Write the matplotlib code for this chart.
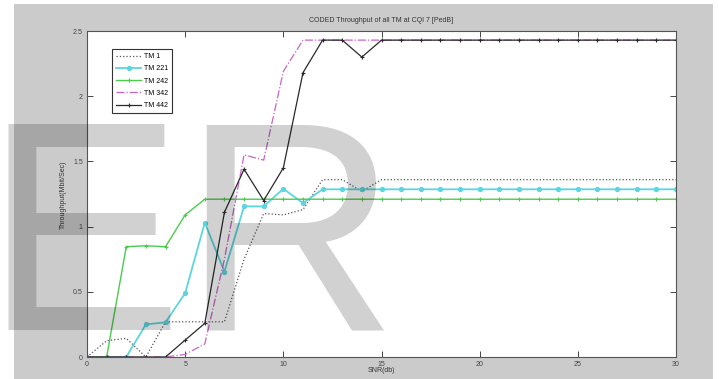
import matplotlib.pyplot as plt
from matplotlib.patches import Rectangle

# SNR axis (dB)
snr = [0, 1, 2, 3, 4, 5, 6, 7, 8, 9, 10, 11, 12, 13, 14, 15,
       16, 17, 18, 19, 20, 21, 22, 23, 24, 25, 26, 27, 28, 29, 30]

# throughput per transmission mode (Mbit/s)
tm1 = [0, 0.125, 0.143, 0, 0.27, 0.27, 0.27, 0.27, 0.75, 1.1, 1.09, 1.13, 1.36, 1.36, 1.27, 1.36,
       1.36, 1.36, 1.36, 1.36, 1.36, 1.36, 1.36, 1.36, 1.36, 1.36, 1.36, 1.36, 1.36, 1.36, 1.36]
tm221 = [0, 0, 0, 0.25, 0.266, 0.49, 1.03, 0.655, 1.155, 1.155, 1.29, 1.18, 1.286, 1.286, 1.286, 1.286,
         1.286, 1.286, 1.286, 1.286, 1.286, 1.286, 1.286, 1.286, 1.286, 1.286, 1.286, 1.286, 1.286, 1.286, 1.286]
tm242 = [0, 0, 0.846, 0.853, 0.846, 1.09, 1.21, 1.21, 1.21, 1.21, 1.21, 1.21, 1.21, 1.21, 1.21, 1.21,
         1.21, 1.21, 1.21, 1.21, 1.21, 1.21, 1.21, 1.21, 1.21, 1.21, 1.21, 1.21, 1.21, 1.21, 1.21]
tm342 = [0, 0, 0, 0, 0, 0.02, 0.1, 0.75, 1.55, 1.51, 2.19, 2.43, 2.43, 2.43, 2.43, 2.43,
         2.43, 2.43, 2.43, 2.43, 2.43, 2.43, 2.43, 2.43, 2.43, 2.43, 2.43, 2.43, 2.43, 2.43, 2.43]
tm442 = [0, 0, 0, 0, 0, 0.13, 0.258, 1.11, 1.44, 1.2, 1.45, 2.18, 2.43, 2.43, 2.3, 2.43,
         2.43, 2.43, 2.43, 2.43, 2.43, 2.43, 2.43, 2.43, 2.43, 2.43, 2.43, 2.43, 2.43, 2.43, 2.43]

x_ticks = [0, 5, 10, 15, 20, 25, 30]
y_ticks = [0, 0.5, 1, 1.5, 2, 2.5]
y_labels = ['0', '0.5', '1', '1.5', '2', '2.5']

plt.rcParams['font.family'] = ['Liberation Sans', 'DejaVu Sans']

fig = plt.figure(figsize=(7.19, 3.79), dpi=100)
fig.patch.set_facecolor('white')
# matlab-like grey figure area
fig.patches.append(Rectangle((14 / 719, 0), 699 / 719, 375 / 379, transform=fig.transFigure,
                             facecolor='#cbcbcb', edgecolor='none', zorder=-10))

ax = fig.add_axes([87 / 719, 22 / 379, 589 / 719, 326 / 379])
ax.set_facecolor('white')

ax.plot(snr, tm1, ':', color='#55555f', lw=0.9, label='TM 1')
ax.plot(snr, tm221, '-o', color='#5cd6de', lw=1.3, ms=2.8, mfc='#5cd6de', mec='#5cd6de', label='TM 221')
ax.plot(snr, tm242, '-+', color='#4ccc4c', lw=1.0, ms=3.5, mew=0.8, label='TM 242')
ax.plot(snr, tm342, '-.', color='#c466c4', lw=0.9, label='TM 342')
ax.plot(snr, tm442, '-+', color='#2a2a2a', lw=0.9, ms=3.5, mew=0.8, label='TM 442')

ax.set_xlim(0, 30)
ax.set_ylim(0, 2.5)
ax.set_xticks(x_ticks)
ax.set_yticks(y_ticks)
ax.set_yticklabels(y_labels)
ax.tick_params(direction='in', length=4, width=0.7, colors='#444444', labelsize=5,
               top=True, right=True, pad=3)
for s in ax.spines.values():
    s.set_color('#555555')
    s.set_linewidth(0.8)

ax.text(0.5, 1 + 11 / 326, 'CODED Throughput of all TM at CQI 7 [PedB]', transform=ax.transAxes,
        ha='center', va='center', fontsize=5, color='#333333')
fig.text(381 / 719, 1 - 370 / 379, 'SNR(db)', ha='center', va='center', fontsize=5, color='#333333')
fig.text(63 / 719, 1 - 195 / 379, 'Throughput(Mbit/Sec)', ha='center', va='center', rotation=90,
         fontsize=5, color='#333333')

leg = ax.legend(loc='upper left', bbox_to_anchor=(25 / 589, 1 - 18 / 326), borderaxespad=0,
                fontsize=5, fancybox=False, framealpha=1, edgecolor='#333333',
                handlelength=3.6, labelspacing=0.75, borderpad=0.6, handletextpad=0.4)
leg.get_frame().set_linewidth(0.8)

# watermark
fig.text(-16 / 719, 1 - 330 / 379, 'ER', ha='left', va='baseline', fontsize=215,
         color='black', alpha=0.18, family='Liberation Sans')

fig.savefig('out.png', dpi=100)
